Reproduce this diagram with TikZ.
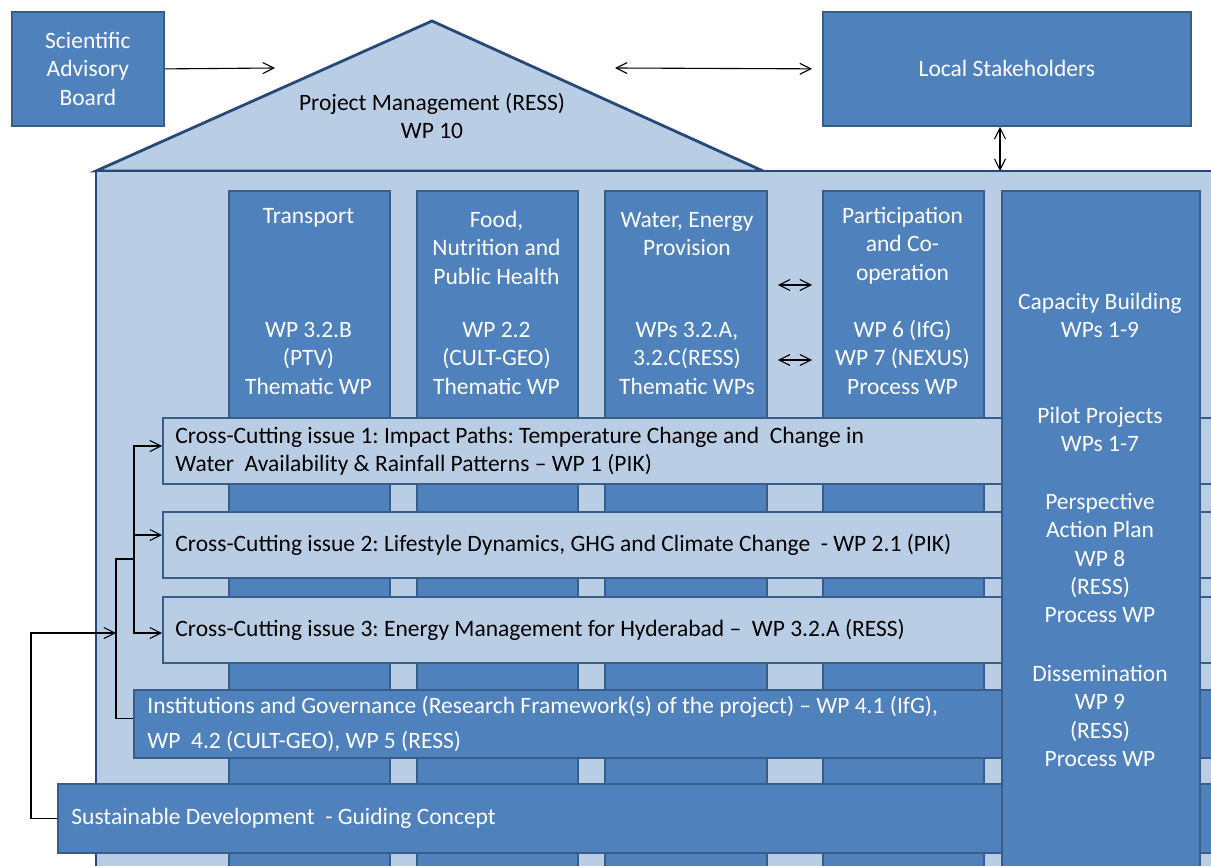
\documentclass[tikz,border=0pt]{standalone}
\usepackage{fontspec}
\setmainfont{Carlito}
\usetikzlibrary{arrows.meta}
\definecolor{boxblue}{HTML}{4F81BD}
\definecolor{paleblue}{HTML}{B9CDE5}
\definecolor{edgeblue}{HTML}{385D8A}
\definecolor{frameblue}{HTML}{27497A}
\frenchspacing

\begin{document}
\begin{tikzpicture}[x=0.5pt, y=-0.5pt,
  every node/.style={font=\fontsize{11.75}{14.2}\selectfont, inner sep=0pt},
  darkbox/.style={draw=edgeblue, fill=boxblue, line width=0.9pt, anchor=north west},
  palebar/.style={draw=edgeblue, fill=paleblue, line width=1pt, anchor=north west},
  frame/.style={draw=frameblue, fill=paleblue, line width=1.4pt, line join=miter},
  wlabel/.style={text=white, align=center, anchor=north},
  blabel/.style={text=black, align=left, anchor=west},
  wbar/.style={text=white, align=left, anchor=west},
  conn/.style={line width=0.55pt, draw=black, -{Straight Barb[length=5.5pt,width=5.5pt]}},
  biconn/.style={line width=0.55pt, draw=black, {Straight Barb[length=5.5pt,width=5.5pt]}-{Straight Barb[length=5.5pt,width=5.5pt]}},
  plain/.style={line width=0.55pt, draw=black},
]
\useasboundingbox (0,0) rectangle (1211,866);
\clip (0,0) rectangle (1211,866);

% roof and house body
\draw[frame] (96,171) -- (432,21) -- (763,171) -- cycle;
\node[wlabel, text=black] (pm) at (432,90) {\strut Project Management (RESS)\\WP 10};
\draw[frame] (96,171) rectangle (1240,900);

% pillars
\node[darkbox, minimum width=80.5pt, minimum height=360pt] (transport) at (228,190) {};
\node[darkbox, minimum width=80.5pt, minimum height=360pt] (food) at (416,190) {};
\node[darkbox, minimum width=81pt, minimum height=360pt] (water) at (604,190) {};
\node[darkbox, minimum width=80.5pt, minimum height=360pt] (participation) at (822,190) {};

\node[wlabel] at (308.5,203) {\strut Transport};
\node[wlabel] at (496.5,207) {\strut Food,\\Nutrition and\\Public Health};
\node[wlabel] at (687,207) {\strut Water, Energy\\Provision};
\node[wlabel] at (902.5,203) {\strut Participation\\and Co-\\operation};

\node[wlabel] at (308.5,317) {\strut WP 3.2.B\\(PTV)\\Thematic WP};
\node[wlabel] at (496.5,317) {\strut WP 2.2\\(CULT-GEO)\\Thematic WP};
\node[wlabel] at (687,317) {\strut WPs 3.2.A,\\3.2.C(RESS)\\Thematic WPs};
\node[wlabel] at (902.5,317) {\strut WP 6 (IfG)\\WP 7 (NEXUS)\\Process WP};

% cross-cutting bars
\node[palebar, minimum width=539pt, minimum height=33pt] (cc1) at (162,417) {};
\node[palebar, minimum width=539pt, minimum height=33pt] (cc2) at (162,511) {};
\node[palebar, minimum width=539pt, minimum height=33pt] (cc3) at (162,596) {};
\node[darkbox, minimum width=553.5pt, minimum height=34pt] (inst) at (133,689) {};
\node[darkbox, minimum width=591.5pt, minimum height=34.5pt] (sd) at (57,783) {};

\node[blabel] at ([xshift=6.5pt]cc1.west) {Cross-Cutting issue 1: Impact Paths: Temperature Change and\ \ Change in\\Water\ \ Availability \& Rainfall Patterns -- WP 1 (PIK)};
\node[blabel] at ([xshift=6.5pt]cc2.west) {Cross-Cutting issue 2: Lifestyle Dynamics, GHG and Climate Change\ \ - WP 2.1 (PIK)};
\node[blabel] at ([xshift=6.5pt]cc3.west) {Cross-Cutting issue 3: Energy Management for Hyderabad --\ \ WP 3.2.A (RESS)};
\node[wbar] at ([xshift=7pt]inst.west) {Institutions and Governance (Research Framework(s) of the project) -- WP 4.1 (IfG),\\[3.3pt]WP\ \ 4.2 (CULT-GEO), WP 5 (RESS)};
\node[wbar] at ([xshift=7pt]sd.west) {Sustainable Development\ \ - Guiding Concept};

% capacity pillar in front of the bars
\node[darkbox, minimum width=99pt, minimum height=360pt] (capacity) at (1001,190) {};
\node[wlabel] at (1100,289) {\strut Capacity Building\\WPs 1-9};
\node[wlabel] at (1100,403) {\strut Pilot Projects\\WPs 1-7};
\node[wlabel] at (1100,489) {\strut Perspective\\Action Plan\\WP 8\\(RESS)\\Process WP};
\node[wlabel] at (1100,661) {\strut Dissemination\\WP 9\\(RESS)\\Process WP};

% outside boxes
\node[darkbox, minimum width=76pt, minimum height=57pt, text=white, align=center] (sab) at (11,11) {Scientific\\Advisory\\Board};
\node[darkbox, minimum width=184pt, minimum height=57pt, text=white] (ls) at (822,11) {Local Stakeholders};

% connectors
\coordinate (pmin) at (275,68);
\coordinate (pmout) at (615,68);
\coordinate (roofline) at (1000,171);
\coordinate (trunk) at (116,633);
\coordinate (fork) at (134,559);

\draw[conn] (sab.east) -- (pmin);
\draw[biconn, shorten >=5pt] (pmout) -- (ls.west);
\draw[biconn] (roofline |- ls.south) -- (roofline);
\draw[biconn, shorten <=5pt, shorten >=5pt] (water.east |- 0,285) -- (participation.west |- 0,285);
\draw[biconn, shorten <=5pt, shorten >=5pt] (water.east |- 0,360) -- (participation.west |- 0,360);

\draw[conn] (sd.west) -- ++(-26,0) |- (trunk);
\draw[plain] ([yshift=2.5pt]inst.west) -- ++(-17,0) |- (fork);
\draw[conn] (fork) |- (cc1.west |- 0,446);
\draw[conn] (fork) |- (cc3.west |- 0,633);
\draw[conn] (fork |- 0,535) -- (cc2.west |- 0,535);
\end{tikzpicture}
\end{document}
